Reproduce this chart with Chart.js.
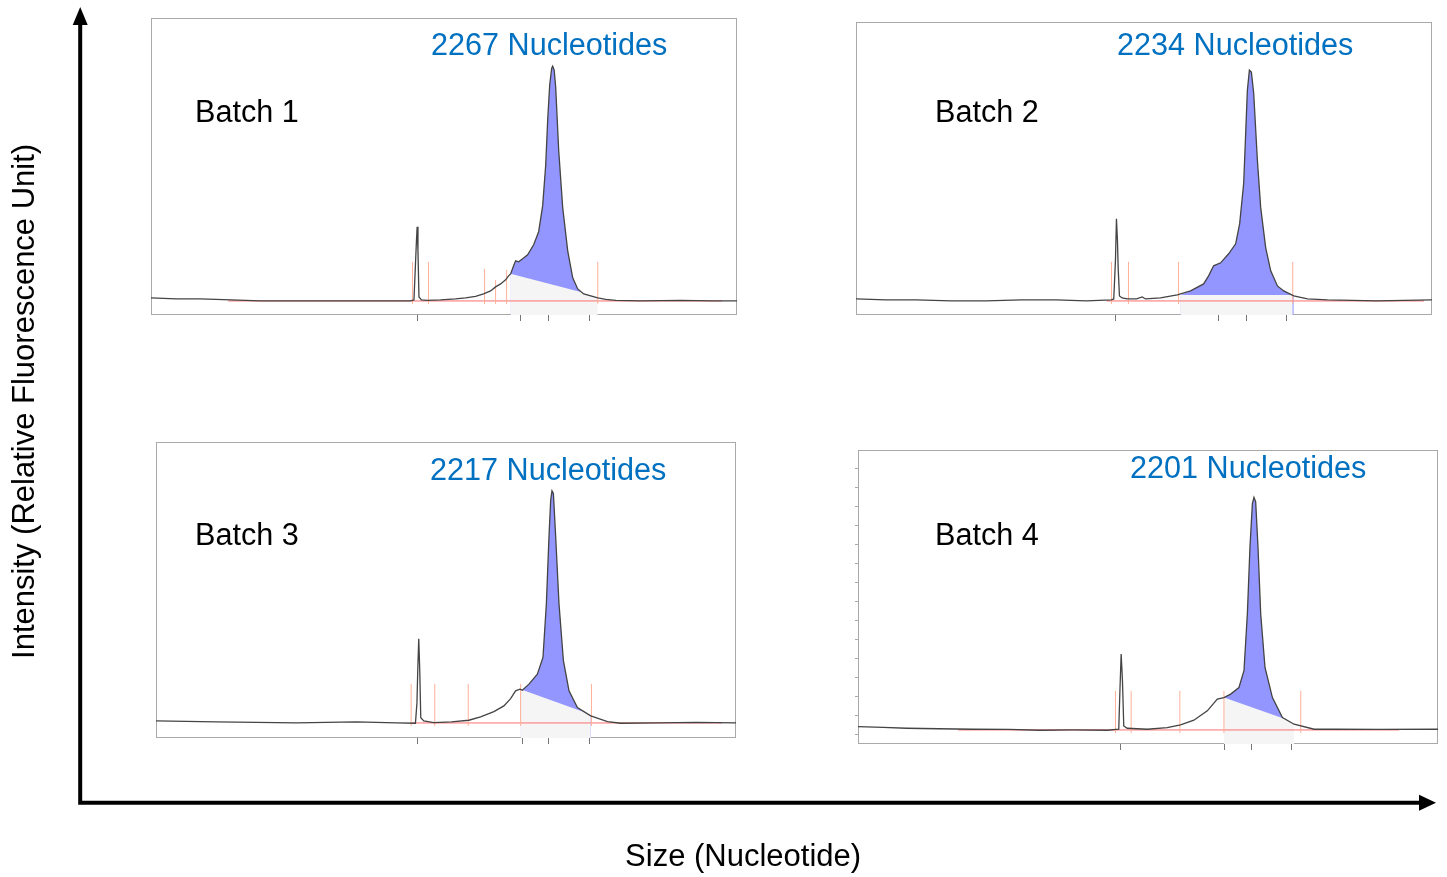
<!DOCTYPE html>
<html>
<head>
<meta charset="utf-8">
<script src="https://cdn.jsdelivr.net/npm/chart.js"></script>
<style>
body{margin:0;background:#fff;width:1447px;height:877px;position:relative;overflow:hidden;font-family:"Liberation Sans",Arial,sans-serif}
.wrap{position:absolute}
.lbl{position:absolute;font-size:30.6px;line-height:30px;white-space:nowrap;color:#000}
.nt{color:#0070c0}
</style>
</head>
<body>
<div class="wrap" style="left:0;top:0;width:1447px;height:877px"><canvas id="axes"></canvas></div>
<div class="wrap" style="left:151px;top:18px;width:586px;height:303px"><canvas id="p1"></canvas></div>
<div class="wrap" style="left:856px;top:22px;width:576px;height:299px"><canvas id="p2"></canvas></div>
<div class="wrap" style="left:156px;top:442px;width:580px;height:302px"><canvas id="p3"></canvas></div>
<div class="wrap" style="left:855px;top:450px;width:583px;height:300px"><canvas id="p4"></canvas></div>

<div class="lbl nt" style="left:431px;top:29px">2267 Nucleotides</div>
<div class="lbl" style="left:195px;top:96px">Batch 1</div>
<div class="lbl nt" style="left:1117px;top:29px">2234 Nucleotides</div>
<div class="lbl" style="left:935px;top:96px">Batch 2</div>
<div class="lbl nt" style="left:430px;top:454px">2217 Nucleotides</div>
<div class="lbl" style="left:195px;top:519px">Batch 3</div>
<div class="lbl nt" style="left:1130px;top:452px">2201 Nucleotides</div>
<div class="lbl" style="left:935px;top:519px">Batch 4</div>

<script>
// electropherogram traces: [position, intensity above baseline]
const trace1 = [[0,3],[25,2],[49,2],[80,1],[109,0],[140,0],[169,0],[200,0],[229,0],[259,0],[262.5,1],[265,60],[265.7,74],[266.5,50],[267.5,4],[270,1],[276,0.5],[289,1],[304,2],[314,3],[324,4.5],[332,7],[339,10],[344,14],[349,17],[354,21],[357,25],[359,27],[362,35],[364,40],[367,39],[371,42],[376,46],[382,56],[387,69],[391,95],[394,135],[396,180],[398,215],[400,232],[401,234],[402.5,230],[404,213],[407,150],[411,93],[416,50],[421,23],[426,12],[432,7],[439,5],[446,3],[454,1.5],[464,0.5],[489,0],[529,0.5],[560,0],[585,0]];
const trace2 = [[0,2],[30,1],[60,1],[95,0],[130,0],[165,1],[200,1],[230,0],[255,1],[257.3,2],[259,40],[260,82],[261,60],[261.7,33],[263,5],[265.7,3],[270.7,2],[280,2],[285.7,4],[289,2],[304,3],[320.7,6],[334,10],[347,17],[352,25],[357,35],[364,38],[372,47],[379,57],[383,77],[387,117],[389,167],[390.7,210],[392.7,230],[394.7,228],[397,207],[400.7,140],[404,93],[409,53],[414,30],[420.7,15],[427,10],[437,5],[450.7,2],[470.7,1],[520,0],[575,1]];
const trace3 = [[0,2],[30,1.5],[60,1],[100,0.5],[140,0],[200,1],[240,0],[259,-0.3],[260.5,20],[261.3,52],[262.3,84],[263.3,52],[264.3,5.3],[267.3,2],[277.3,0.3],[295,1],[312.3,2.7],[324,6],[337.3,11.3],[347.3,17],[354,24.3],[359,32],[363.3,33.7],[365.7,32.7],[372.3,38.7],[380.7,48.7],[386.3,65.3],[389.7,118.7],[392.3,185.3],[394,222],[395.3,231.3],[396.7,228.7],[399,185.3],[402.3,118.7],[406.7,62],[412.3,32],[420.7,15.3],[434,7],[450.7,1.3],[464,-0.3],[500,0],[540,0.5],[579,0]];
const trace4 = [[0,3.3],[25,2.5],[48.7,1.7],[80,1.2],[115,0.7],[150,0.5],[182,-0.3],[215,0],[248.7,-0.3],[260.3,0.7],[261.5,40],[262.7,75.7],[264,49],[265.3,4],[268.7,1.7],[288.7,0.7],[308.7,2.3],[322,5],[335.3,9.7],[348.7,19],[358.7,30.7],[365.3,32.3],[372,35.7],[380.3,42.3],[385.3,59],[388.7,115.7],[391.3,182.3],[393.7,225.7],[395.3,231.7],[397,227.3],[399.3,182.3],[402,115.7],[406.3,62.3],[413.7,32.3],[423.7,12.3],[435.3,5.7],[455.3,0.7],[475.3,0.7],[520,0.5],[579,0.7]];

// integration baseline of the main peak (start, end)
const slope1 = [[359,27],[429,9]];
const slope2 = [[324,6],[436,6]];
const slope3 = [[364,33.7],[425.7,11.3]];
const slope4 = [[365.3,32.3],[427,10.7]];

// peak markers: [position, height]
const markers1 = [[261,39],[277,39],[333,32],[344,21],[355,31],[446,39]];
const markers2 = [[255,39],[272,39],[322,39],[436,39]];
const markers3 = [[254.7,39],[278.3,39],[311.7,39],[364,39],[434.7,39]];
const markers4 = [[257,39],[272.7,39],[321.3,39],[365.3,39],[442,39]];

// x tick positions under each panel
const ticks1 = [266, 369, 397, 438];
const ticks2 = [259, 362, 390, 430];
const ticks3 = [261.3, 365.7, 392.3, 433];
const ticks4 = [262, 366, 393, 432.7];
const yTicks4 = [-5, 14, 33, 52, 71, 90, 109, 128, 147, 166, 185, 204, 223, 242, 261];

const font = {family: '"Liberation Sans", Arial, sans-serif', size: 31};

const arrowAxes = {
  id: 'arrowAxes',
  afterDraw(chart) {
    const {ctx, chartArea: a} = chart;
    ctx.save();
    ctx.strokeStyle = '#000';
    ctx.fillStyle = '#000';
    ctx.lineWidth = 4;
    ctx.lineJoin = 'miter';
    ctx.beginPath();
    ctx.moveTo(a.left, a.top + 22);
    ctx.lineTo(a.left, a.bottom);
    ctx.lineTo(a.right + 14, a.bottom);
    ctx.stroke();
    ctx.beginPath();
    ctx.moveTo(a.left, a.top + 7);
    ctx.lineTo(a.left - 7.5, a.top + 25);
    ctx.lineTo(a.left + 7.5, a.top + 25);
    ctx.closePath();
    ctx.fill();
    ctx.beginPath();
    ctx.moveTo(a.right + 30, a.bottom);
    ctx.lineTo(a.right + 13, a.bottom - 8);
    ctx.lineTo(a.right + 13, a.bottom + 8);
    ctx.closePath();
    ctx.fill();
    ctx.restore();
  }
};

new Chart(document.getElementById('axes'), {
  type: 'line',
  data: {datasets: []},
  options: {
    responsive: true,
    maintainAspectRatio: false,
    animation: false,
    layout: {padding: {left: 0, right: 41, top: 0, bottom: 0}},
    plugins: {legend: {display: false}, tooltip: {enabled: false}},
    scales: {
      x: {type: 'linear', min: 0, max: 1,
        grid: {display: false, drawTicks: false}, border: {display: false}, ticks: {display: false},
        title: {display: true, text: 'Size (Nucleotide)', color: '#000', font: font, padding: {top: 36, bottom: 1}}},
      y: {type: 'linear', min: 0, max: 1,
        grid: {display: false, drawTicks: false}, border: {display: false}, ticks: {display: false},
        title: {display: true, text: 'Intensity (Relative Fluorescence Unit)', color: '#000', font: font, padding: {top: 7, bottom: 36}}}
    }
  },
  plugins: [arrowAxes]
});

const boxFrame = {
  id: 'boxFrame',
  beforeDatasetsDraw(chart) {
    const {ctx, chartArea: a} = chart;
    ctx.save();
    ctx.strokeStyle = '#a9a9a9';
    ctx.lineWidth = 1;
    ctx.strokeRect(a.left + 0.5, a.top + 0.5, a.right - a.left - 1, a.bottom - a.top - 1);
    ctx.restore();
  }
};

function makePanel(id, p) {
  const pts = arr => arr.map(([x, y]) => ({x, y}));
  const s0 = p.slope[0][0], s1 = p.slope[1][0];
  const endIdx = p.trace.findIndex(q => q[0] >= s1);
  const blue = [p.slope[0], ...p.trace.filter((q, i) => q[0] > s0 && i <= endIdx)];
  const grey = [...p.slope, ...p.trace.filter(q => q[0] > s1 && q[0] <= p.greyEnd)];
  const line = {pointRadius: 0, tension: 0};
  const datasets = [
    {...line, data: pts(blue), fill: 'start', backgroundColor: '#9396ff', borderWidth: 0, order: 9},
    {...line, data: pts(grey), fill: 'start', backgroundColor: '#f5f5f5', borderWidth: 0, order: 8},
    {...line, data: pts(p.red.map(x => [x, 0])), borderColor: '#ff6f6f', borderWidth: 1, order: 7},
    ...p.markers.map(([x, h]) => ({...line, data: pts([[x, -3], [x, h]]), borderColor: '#ffb197', borderWidth: 1, order: 6})),
    {...line, data: pts(p.trace), borderColor: '#444', borderWidth: 1.3, order: 1}
  ];
  new Chart(document.getElementById(id), {
    type: 'line',
    data: {datasets},
    options: {
      responsive: true,
      maintainAspectRatio: false,
      animation: false,
      layout: {padding: 0},
      plugins: {legend: {display: false}, tooltip: {enabled: false}},
      scales: {
        x: {type: 'linear', min: 0, max: p.width,
          grid: {drawOnChartArea: false, tickLength: 6, color: '#777'},
          border: {display: false}, ticks: {display: false},
          afterBuildTicks: ax => { ax.ticks = p.ticks.map(v => ({value: v})); }},
        y: {type: 'linear', min: p.min, max: p.max, display: !!p.yTicks,
          grid: {drawOnChartArea: false, tickLength: 3, color: '#aaa'},
          border: {display: false}, ticks: {display: false},
          afterBuildTicks: ax => { if (p.yTicks) ax.ticks = p.yTicks.map(v => ({value: v})); }}
      }
    },
    plugins: [boxFrame]
  });
}

makePanel('p1', {trace: trace1, slope: slope1, greyEnd: 446, markers: markers1, ticks: ticks1, red: [77, 570], width: 585, min: -14, max: 282});
makePanel('p2', {trace: trace2, slope: slope2, greyEnd: 436, markers: markers2, ticks: ticks2, red: [250, 567], width: 575, min: -14, max: 278});
makePanel('p3', {trace: trace3, slope: slope3, greyEnd: 434.7, markers: markers3, ticks: ticks3, red: [255, 565], width: 579, min: -15, max: 280});
makePanel('p4', {trace: trace4, slope: slope4, greyEnd: 442, markers: markers4, ticks: ticks4, red: [100, 540], width: 579, min: -14, max: 279, yTicks: yTicks4});
</script>
</body>
</html>
